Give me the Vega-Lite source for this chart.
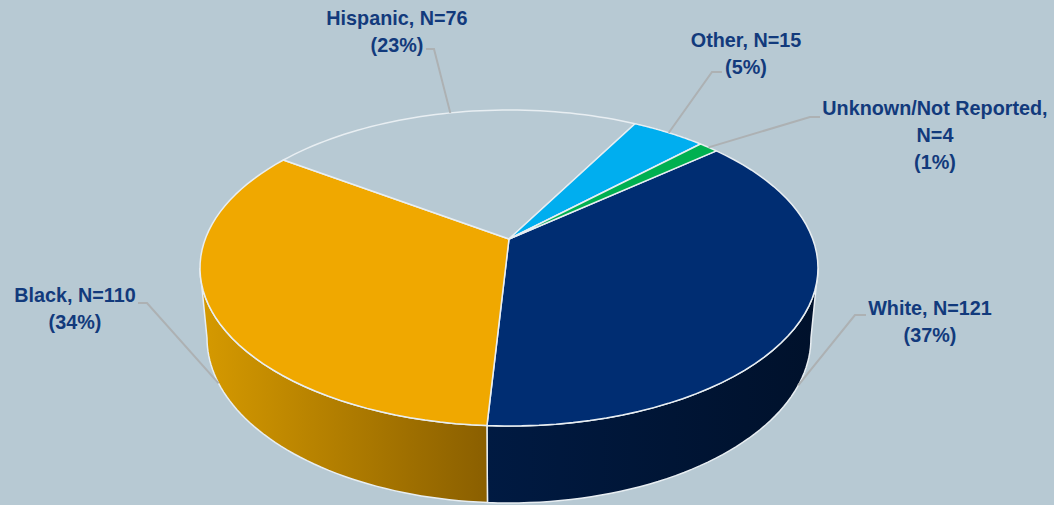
{"$schema":"https://vega.github.io/schema/vega-lite/v6.json","width":1054,"height":505,"padding":0,"autosize":{"type":"none"},"background":"#b7c9d3","view":{"stroke":null},"data":{"values":[{"category":"White","N":121,"order":1,"label":"White, N=121\n(37%)"},{"category":"Black","N":110,"order":2,"label":"Black, N=110\n(34%)"},{"category":"Hispanic","N":76,"order":3,"label":"Hispanic, N=76\n(23%)"},{"category":"Other","N":15,"order":4,"label":"Other, N=15\n(5%)"},{"category":"Unknown/Not Reported","N":4,"order":5,"label":"Unknown/Not Reported,\nN=4\n(1%)"}]},"transform":[{"stack":"N","offset":"normalize","groupby":[],"sort":[{"field":"order","order":"ascending"}],"as":["s0","s1"]},{"calculate":"-0.702+2*PI*datum.s0","as":"a0"},{"calculate":"-0.702+2*PI*datum.s1","as":"a1"}],"encoding":{"x":{"field":"X","type":"quantitative","axis":null,"scale":{"domain":[-1.6472,1.7638],"nice":false,"zero":false}},"y":{"field":"Y","type":"quantitative","axis":null,"scale":{"domain":[1.5,-1.6962],"nice":false,"zero":false}}},"layer":[{"transform":[{"filter":"datum.category==='White'"},{"calculate":"sequence(0,2.0601,0.02)","as":"s"},{"flatten":["s"]},{"calculate":"max(datum.a0,0.185)","as":"ta"},{"calculate":"datum.s<=1.01?datum.ta+(datum.a1-datum.ta)*datum.s:datum.s>2.03?datum.ta:datum.a1-(datum.a1-datum.ta)*(datum.s-1.02)","as":"th"},{"calculate":"cos(datum.th)*0.98302/(1-0.1835*sin(datum.th))","as":"Xr"},{"calculate":"(sin(datum.th)-0.1835)/(1-0.1835*sin(datum.th))","as":"Yr"},{"calculate":"datum.s<=1.01||datum.s>2.03?datum.Xr:0.9773*datum.Xr","as":"X"},{"calculate":"datum.s<=1.01||datum.s>2.03?datum.Yr:0.443+1.0443*datum.Yr","as":"Y"}],"mark":{"type":"line","fill":{"x1":0,"y1":0,"x2":1,"y2":0,"gradient":"linear","stops":[{"offset":0,"color":"#001a42"},{"offset":1,"color":"#00112b"}]},"stroke":"#e8eef2","strokeWidth":1.5,"interpolate":"linear"},"encoding":{"order":{"field":"s","type":"quantitative"}}},{"transform":[{"filter":"datum.category==='Black'"},{"calculate":"sequence(0,2.0601,0.02)","as":"s"},{"flatten":["s"]},{"calculate":"min(datum.a1,2.957)","as":"tb"},{"calculate":"datum.s<=1.01?datum.a0+(datum.tb-datum.a0)*datum.s:datum.s>2.03?datum.a0:datum.tb-(datum.tb-datum.a0)*(datum.s-1.02)","as":"th"},{"calculate":"cos(datum.th)*0.98302/(1-0.1835*sin(datum.th))","as":"Xr"},{"calculate":"(sin(datum.th)-0.1835)/(1-0.1835*sin(datum.th))","as":"Yr"},{"calculate":"datum.s<=1.01||datum.s>2.03?datum.Xr:0.9773*datum.Xr","as":"X"},{"calculate":"datum.s<=1.01||datum.s>2.03?datum.Yr:0.443+1.0443*datum.Yr","as":"Y"}],"mark":{"type":"line","fill":{"x1":0,"y1":0,"x2":1,"y2":0,"gradient":"linear","stops":[{"offset":0,"color":"#d69a00"},{"offset":1,"color":"#8a5f00"}]},"stroke":"#e8eef2","strokeWidth":1.5,"interpolate":"linear"},"encoding":{"order":{"field":"s","type":"quantitative"}}},{"transform":[{"calculate":"sequence(-0.02,1.03,0.02)","as":"t"},{"flatten":["t"]},{"calculate":"datum.a0+(datum.a1-datum.a0)*datum.t","as":"th"},{"calculate":"datum.t<-0.001||datum.t>1.001?0:cos(datum.th)","as":"u"},{"calculate":"datum.t<-0.001||datum.t>1.001?0:sin(datum.th)","as":"v"},{"calculate":"datum.u*0.98302/(1-0.1835*datum.v)","as":"X"},{"calculate":"(datum.v-0.1835)/(1-0.1835*datum.v)","as":"Y"}],"mark":{"type":"line","stroke":"#e8eef2","strokeWidth":1.5,"strokeJoin":"round","interpolate":"linear"},"encoding":{"detail":{"field":"category"},"order":{"field":"t","type":"quantitative"},"fill":{"field":"category","type":"nominal","legend":null,"scale":{"domain":["White","Black","Hispanic","Other","Unknown/Not Reported"],"range":["#002d72","#f0a800","#b7c9d3","#00aeef","#00b050"]}}}},{"transform":[{"calculate":"[0,1,2]","as":"i"},{"flatten":["i"]},{"calculate":"(datum.a0+datum.a1)/2","as":"th"},{"calculate":"cos(datum.th)*0.98302/(1-0.1835*sin(datum.th))","as":"Xr"},{"calculate":"(sin(datum.th)-0.1835)/(1-0.1835*sin(datum.th))","as":"Yr"},{"calculate":"datum.category==='White'||datum.category==='Black'","as":"low"},{"calculate":"{'White':[1.1197,1.1553],'Black':[-1.1715,-1.2006],'Hispanic':[-0.2427,-0.2686],'Other':[0.657,0.689],'Unknown/Not Reported':[0.974,1.0065]}[datum.category]","as":"ex"},{"calculate":"{'White':0.2975,'Black':0.2215,'Hispanic':-1.386,'Other':-1.2405,'Unknown/Not Reported':-0.9557}[datum.category]","as":"ey"},{"calculate":"datum.i===0?(datum.low?0.9773*datum.Xr:datum.Xr):datum.ex[datum.i-1]","as":"X"},{"calculate":"datum.i===0?(datum.low?0.443+1.0443*datum.Yr:datum.Yr):datum.ey","as":"Y"}],"mark":{"type":"line","stroke":"#adb1b3","strokeWidth":2,"interpolate":"linear"},"encoding":{"detail":{"field":"category"},"order":{"field":"i","type":"quantitative"}}},{"transform":[{"calculate":"{'White':1.3625,'Black':-1.4045,'Hispanic':-0.3625,'Other':0.767,'Unknown/Not Reported':1.3786}[datum.category]","as":"X"},{"calculate":"{'White':0.2595,'Black':0.1772,'Hispanic':-1.5759,'Other':-1.4367,'Unknown/Not Reported':-1.006}[datum.category]","as":"Y"}],"mark":{"type":"text","font":"Liberation Sans","fontWeight":"bold","fontSize":19.8,"color":"#123a7c","align":"center","baseline":"middle","lineBreak":"\n","lineHeight":27},"encoding":{"text":{"field":"label"}}}]}
